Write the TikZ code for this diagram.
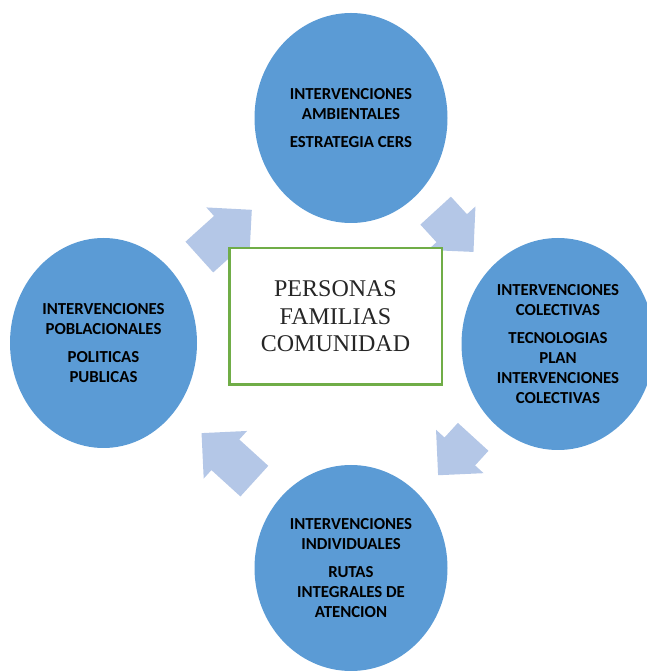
\documentclass[tikz,border=0pt]{standalone}
\usepackage{fontspec}
\setmainfont{Liberation Serif}
\newfontfamily\bubblefont{Carlito}
\usepackage{xcolor}
\usepackage{tikz}
\usetikzlibrary{shapes.geometric,shapes.arrows}

\definecolor{bubbleblue}{HTML}{5B9BD5}
\definecolor{arrowblue}{HTML}{B4C7E7}
\definecolor{framegreen}{HTML}{70AD47}

\begin{document}
\begin{tikzpicture}[x=1pt,y=1pt]

\tikzstyle{bubble}=[ellipse,fill=bubbleblue,minimum width=193pt,minimum height=210pt,inner sep=0pt,align=center,font=\bubblefont\bfseries\fontsize{16.8}{20}\selectfont]
\tikzstyle{flecha}=[single arrow,fill=arrowblue,single arrow head extend=11.5pt,single arrow tip angle=90,inner xsep=0pt,inner ysep=20.5pt,anchor=tail]
\tikzset{box style/.style={draw=framegreen,line width=2.5pt,fill=white,minimum width=212.5pt,minimum height=136.5pt,align=center,text=black!85,font=\fontsize{24}{27.5}\selectfont}}

\useasboundingbox (0,0) rectangle (647,672);
\clip (0,0) rectangle (647,672);

\node[flecha,rotate=42,minimum height=70.6pt]     (f1) at (199.2,414.8) {};
\node[flecha,rotate=-47.5,minimum height=56pt]    (f2) at (435.5,461.5) {};
\node[flecha,rotate=-132.4,minimum height=52pt]   (f3) at (473.3,235.3) {};
\node[flecha,rotate=137.7,minimum height=71.4pt]  (f4) at (254.5,190.7) {};

\node[bubble] (ambiental) at (351,554)
  {INTERVENCIONES\\AMBIENTALES\\[8pt]ESTRATEGIA CERS};
\node[bubble,minimum width=193pt,minimum height=212pt] (colectiva) at (558,328)
  {INTERVENCIONES\\COLECTIVAS\\[8pt]TECNOLOGIAS\\PLAN\\INTERVENCIONES\\COLECTIVAS};
\node[bubble,minimum height=206pt] (individual) at (351,104)
  {INTERVENCIONES\\INDIVIDUALES\\[8pt]RUTAS\\INTEGRALES DE\\ATENCION};
\node[bubble,minimum width=187pt] (poblacion) at (103.5,329)
  {INTERVENCIONES\\POBLACIONALES\\[8pt]POLITICAS\\PUBLICAS};

\node[box style] (centro) at (335.5,355.5) {PERSONAS\\FAMILIAS\\COMUNIDAD};

\end{tikzpicture}
\end{document}
